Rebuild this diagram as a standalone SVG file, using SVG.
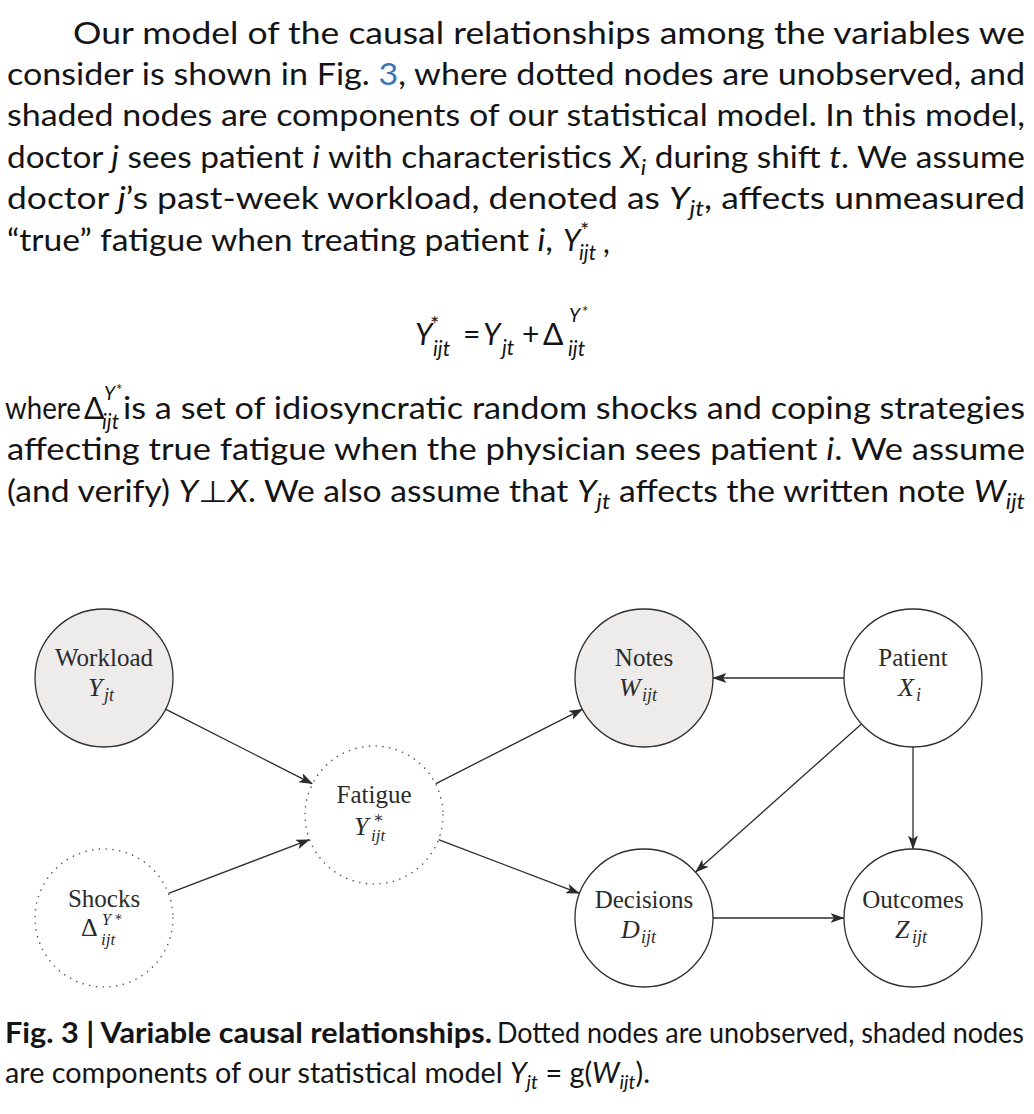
<svg xmlns="http://www.w3.org/2000/svg" width="1034" height="1114" viewBox="0 0 1034 1114">
<style>
.body{font-family:Lato,"Noto Sans","DejaVu Sans",sans-serif;font-size:30px;fill:#141414}
.it{font-style:italic}
.sub{font-style:italic;font-size:21px}
.sup{font-size:22px}
.sup2{font-size:15px}
.isub{font-style:italic;font-size:21px}
.isup{font-style:italic;font-size:19px}
.cap{font-family:Lato,"Noto Sans","DejaVu Sans",sans-serif;font-size:28px;fill:#141414}
.csub{font-style:italic;font-size:19px}
.bold{font-weight:bold}
.node{stroke:#2e2e2e;stroke-width:1.3}
.shaded{fill:#edeceb}
.plain{fill:#ffffff}
.dotted{fill:#ffffff;stroke:#555;stroke-width:1.6;stroke-dasharray:0.01 6.8;stroke-linecap:round}
.lab{font-family:"Liberation Serif","DejaVu Serif",serif;font-size:25px;fill:#2b2b2b;text-anchor:middle}
.math{font-family:"Liberation Serif","DejaVu Serif",serif;font-size:26px;fill:#2b2b2b;font-style:italic}
.msub{font-family:"Liberation Serif","DejaVu Serif",serif;font-size:18px;fill:#2b2b2b;font-style:italic}
.mup{font-family:"Liberation Serif","DejaVu Serif",serif;fill:#2b2b2b;font-style:normal}
.edge{stroke:#2b2b2b;stroke-width:1.3;fill:none;marker-end:url(#arr)}
</style>
<defs>
<marker id="arr" markerUnits="userSpaceOnUse" markerWidth="14" markerHeight="10" viewBox="0 0 14 10" refX="13.5" refY="5" orient="auto"><path d="M0,0 L14,5 L0,10 L3.5,5 Z" fill="#2b2b2b"/></marker>
</defs>
<rect width="1034" height="1114" fill="#ffffff"/>

<g id="body-text">
<text class="body" x="73" y="44" textLength="952" lengthAdjust="spacingAndGlyphs">Our model of the causal relationships among the variables we</text>
<text class="body" x="7" y="85" textLength="1018" lengthAdjust="spacingAndGlyphs">consider is shown in Fig. <tspan fill="#3a75b0">3</tspan>, where dotted nodes are unobserved, and</text>
<text class="body" x="7" y="126" textLength="1018" lengthAdjust="spacingAndGlyphs">shaded nodes are components of our statistical model. In this model,</text>
<text class="body" x="7" y="168" textLength="1018" lengthAdjust="spacingAndGlyphs">doctor <tspan class="it">j</tspan> sees patient <tspan class="it">i</tspan> with characteristics <tspan class="it">X</tspan><tspan class="sub" dy="7">i</tspan><tspan dy="-7"> during shift </tspan><tspan class="it">t</tspan>. We assume</text>
<text class="body" x="7" y="209" textLength="1018" lengthAdjust="spacingAndGlyphs">doctor <tspan class="it">j</tspan>’s past-week workload, denoted as <tspan class="it">Y</tspan><tspan class="sub" dy="7">jt</tspan><tspan dy="-7">, affects unmeasured</tspan></text>
<text class="body" x="7" y="251" textLength="546" lengthAdjust="spacingAndGlyphs">“true” fatigue when treating patient <tspan class="it">i</tspan>,</text>
<text class="body it" x="563" y="251">Y</text>
<text class="body sup" x="580" y="238">*</text>
<text class="body isub" x="579" y="260">ijt</text>
<text class="body" x="603" y="253">,</text>

<g id="equation">
<text class="body it" x="415" y="345">Y</text>
<text class="body sup" x="430" y="332">*</text>
<text class="body isub" x="433" y="356">ijt</text>
<text class="body" x="463" y="345">=</text>
<text class="body it" x="483" y="345">Y</text>
<text class="body isub" x="502" y="355">jt</text>
<text class="body" x="522" y="345">+</text>
<text class="body" x="543" y="345">Δ</text>
<text class="body isup" x="569" y="322">Y</text>
<text class="body sup2" x="582" y="317">*</text>
<text class="body isub" x="568" y="356">ijt</text>
</g>

<text class="body" x="5" y="419" textLength="76" lengthAdjust="spacingAndGlyphs">where</text>
<text class="body" x="84" y="419">Δ</text>
<text class="body isup" x="104" y="400">Y</text>
<text class="body sup2" x="116" y="395">*</text>
<text class="body isub" x="102" y="429">ijt</text>
<text class="body" x="123" y="419" textLength="902" lengthAdjust="spacingAndGlyphs">is a set of idiosyncratic random shocks and coping strategies</text>
<text class="body" x="7" y="460" textLength="1018" lengthAdjust="spacingAndGlyphs">affecting true fatigue when the physician sees patient <tspan class="it">i</tspan>. We assume</text>
<text class="body" x="7" y="502" textLength="1018" lengthAdjust="spacingAndGlyphs">(and verify) <tspan class="it">Y⊥X</tspan>. We also assume that <tspan class="it">Y</tspan><tspan class="sub" dy="7">jt</tspan><tspan dy="-7"> affects the written note </tspan><tspan class="it">W</tspan><tspan class="sub" dy="7">ijt</tspan></text>
</g>

<g id="connectors">
<line class="edge" x1="165.5" y1="709.2" x2="312.5" y2="783.8"/>
<line class="edge" x1="168.5" y1="893.4" x2="309.5" y2="839.6"/>
<line class="edge" x1="435.5" y1="783.8" x2="582.5" y2="709.2"/>
<line class="edge" x1="438.5" y1="839.6" x2="579.5" y2="893.4"/>
<line class="edge" x1="844" y1="678" x2="713" y2="678"/>
<line class="edge" x1="861.5" y1="723.9" x2="695.5" y2="872.1"/>
<line class="edge" x1="913" y1="747" x2="913" y2="849"/>
<line class="edge" x1="713" y1="918" x2="844" y2="918"/>
</g>

<g id="node-workload">
<circle class="node shaded" cx="104" cy="678" r="69"/>
<text class="lab" x="104" y="666">Workload</text>
<text class="math" x="88" y="696">Y</text>
<text class="msub" x="104" y="701">jt</text>
</g>
<g id="node-shocks">
<circle class="dotted" cx="104" cy="918" r="69"/>
<text class="lab" x="104" y="907">Shocks</text>
<text class="mup" x="81" y="936" style="font-size:26px">Δ</text>
<text class="msub" x="102" y="925" style="font-size:16px">Y</text>
<text class="mup" x="114" y="921" style="font-size:13px">∗</text>
<text class="msub" x="101" y="945" style="font-size:17px">ijt</text>
</g>
<g id="node-fatigue">
<circle class="dotted" cx="374" cy="815" r="69"/>
<text class="lab" x="374" y="803">Fatigue</text>
<text class="math" x="354" y="835">Y</text>
<text class="mup" x="373" y="823" style="font-size:16px">∗</text>
<text class="msub" x="371" y="841" style="font-size:17px">ijt</text>
</g>
<g id="node-notes">
<circle class="node shaded" cx="644" cy="678" r="69"/>
<text class="lab" x="644" y="666">Notes</text>
<text class="math" x="619" y="696">W</text>
<text class="msub" x="642" y="701">ijt</text>
</g>
<g id="node-patient">
<circle class="node plain" cx="913" cy="678" r="69"/>
<text class="lab" x="913" y="666">Patient</text>
<text class="math" x="898" y="696">X</text>
<text class="msub" x="916" y="701">i</text>
</g>
<g id="node-decisions">
<circle class="node plain" cx="644" cy="918" r="69"/>
<text class="lab" x="644" y="908">Decisions</text>
<text class="math" x="621" y="938">D</text>
<text class="msub" x="641" y="943">ijt</text>
</g>
<g id="node-outcomes">
<circle class="node plain" cx="913" cy="918" r="69"/>
<text class="lab" x="913" y="908">Outcomes</text>
<text class="math" x="895" y="938">Z</text>
<text class="msub" x="912" y="943">ijt</text>
</g>

<g id="caption">
<text class="cap bold" x="5" y="1043" textLength="487" lengthAdjust="spacingAndGlyphs">Fig. 3 | Variable causal relationships.</text>
<text class="cap" x="497" y="1043" textLength="527" lengthAdjust="spacingAndGlyphs">Dotted nodes are unobserved, shaded nodes</text>
<text class="cap" x="5" y="1083" textLength="645" lengthAdjust="spacingAndGlyphs">are components of our statistical model <tspan class="it">Y</tspan><tspan class="csub" dy="6">jt</tspan><tspan dy="-6"> = g(</tspan><tspan class="it">W</tspan><tspan class="csub" dy="6">ijt</tspan><tspan dy="-6">).</tspan></text>
</g>
</svg>
